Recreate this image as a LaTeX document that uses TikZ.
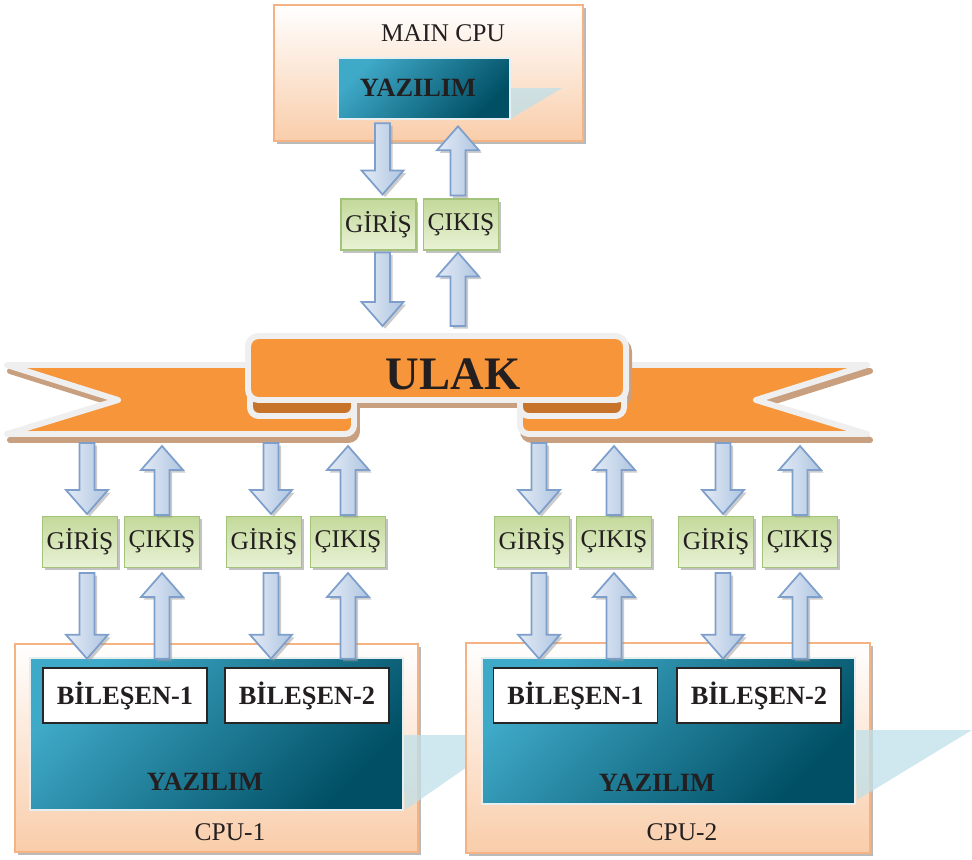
\documentclass[tikz,border=0pt]{standalone}
\usepackage{fontspec}
\setmainfont{Liberation Serif}
\usetikzlibrary{calc,shadows}

\definecolor{peachc}{HTML}{F9CDAA}
\definecolor{peachline}{HTML}{F5B383}
\definecolor{tealL}{HTML}{3FA9C8}
\definecolor{tealD}{HTML}{004F64}
\definecolor{tealline}{HTML}{E6EEF0}
\definecolor{flapc}{HTML}{BFE0EA}
\definecolor{ioT}{HTML}{C3D99A}
\definecolor{ioB}{HTML}{E9F2D6}
\definecolor{ioline}{HTML}{A3C27A}
\definecolor{arrL}{HTML}{E3EBF5}
\definecolor{arrR}{HTML}{AFC5E1}
\definecolor{arrline}{HTML}{7E9FCB}
\definecolor{ribc}{HTML}{F7953B}
\definecolor{ribdark}{HTML}{C8732A}
\definecolor{ribline}{HTML}{EFEFEF}
\definecolor{ribshade}{HTML}{C9A07F}
\definecolor{inkc}{HTML}{231F20}

\tikzset{
  cpubox/.style={draw=peachline, line width=1.2pt, top color=white, bottom color=peachc, inner sep=0pt,
    drop shadow={shadow xshift=1.5pt, shadow yshift=-1.5pt, fill=black!45, opacity=.6}},
  swbox/.style={draw=tealline, line width=1.5pt, top color=tealL, bottom color=tealD, shading angle=45, inner sep=0pt},
  flap/.style={fill=flapc, opacity=.75},
  cpulabel/.style={text=inkc, font=\fontsize{14.5}{17}\selectfont},
  swlabel/.style={text=inkc, font=\fontsize{15}{18}\selectfont\bfseries},
  iobox/.style={draw=ioline, line width=.6pt, top color=ioT, bottom color=ioB, inner sep=0pt,
    minimum width=1.5cm, minimum height=1.02cm, text=inkc, font=\fontsize{14.5}{17}\selectfont,
    drop shadow={shadow xshift=1.2pt, shadow yshift=-1.5pt, fill=black!40, opacity=.6}},
  bilbox/.style={draw=black!85, line width=1.1pt, fill=white, inner sep=0pt,
    minimum width=3.28cm, minimum height=1.1cm, text=inkc, font=\fontsize{15}{18}\selectfont\bfseries},
  fatarrow/.style={draw=arrline, line width=1pt, left color=arrL, right color=arrR,
    drop shadow={shadow xshift=1.5pt, shadow yshift=-1.5pt, fill=black!40, opacity=.5}},
  ribbon/.style={fill=ribc, draw=ribline, line width=3.4pt, line join=round},
  ribfold/.style={fill=ribdark, draw=ribline, line width=3.4pt, line join=round},
  ribshadow/.style={fill=ribshade, draw=ribshade, line width=3.4pt, line join=round},
  ulaktext/.style={text=inkc, font=\fontsize{26.5}{30}\selectfont\bfseries}
}

% fat block arrow from #1 to #2
\newcommand{\fatarrow}[2]{%
  \coordinate (fa) at #1;
  \coordinate (fb) at #2;
  \coordinate (fh) at ($(fb)!0.48cm!(fa)$);
  \path[fatarrow] ($(fa)!0.15cm!90:(fb)$) -- ($(fh)!0.15cm!-90:(fa)$) -- ($(fh)!0.42cm!-90:(fa)$)
    -- (fb) -- ($(fh)!0.42cm!90:(fa)$) -- ($(fh)!0.15cm!90:(fa)$) -- ($(fa)!0.15cm!-90:(fb)$) -- cycle;}

% ribbon parts
\newcommand{\ribtailL}{(7,365) -- (118,400) -- (7,434) [rounded corners=5pt] -- (354,434) -- (354,365) [sharp corners] -- cycle}
\newcommand{\ribtailR}{(867,365) -- (756,400) -- (867,434) [rounded corners=5pt] -- (520,434) -- (520,365) [sharp corners] -- cycle}
\newcommand{\ribrollL}{(354,390) -- (250,390) [rounded corners=5pt] -- (250,416) -- (354,416) [sharp corners] -- cycle}
\newcommand{\ribrollR}{(520,390) -- (624,390) [rounded corners=5pt] -- (624,416) -- (520,416) [sharp corners] -- cycle}
\newcommand{\ribmid}{[rounded corners=6pt] (248,336) rectangle (626,400)}

\begin{document}
\begin{tikzpicture}[x=0.02cm, y=-0.02cm]
  \useasboundingbox (0,0) rectangle (972,859);

  % main cpu
  \node[cpubox, minimum width=6.18cm, minimum height=2.72cm] (maincpu) at (428.5,73) {};
  \fill[flap] (510,88) -- (562,88) -- (512,118) -- cycle;
  \node[swbox, minimum width=3.44cm, minimum height=1.22cm] (mainsw) at (424,88.5) {};
  \node[cpulabel] (mainlbl) at (443,33) {MAIN CPU};
  \node[swlabel] (mainswlbl) at (418,88) {YAZILIM};

  % cpu-1 and cpu-2
  \node[cpubox, minimum width=8.06cm, minimum height=4.16cm] (cpua) at (216.5,748) {};
  \fill[flap] (402,735) -- (513,735) -- (405,810) -- cycle;
  \node[cpubox, minimum width=8.08cm, minimum height=4.2cm] (cpub) at (668,748) {};
  \fill[flap] (854,730) -- (972,730) -- (857,800) -- cycle;
  \node[swbox, minimum width=7.46cm, minimum height=3.04cm] (swa) at (216.5,734) {};
  \node[swbox, minimum width=7.46cm, minimum height=2.92cm] (swb) at (668.5,731) {};
  \node[bilbox] (bila1) at (125,695.5) {BİLEŞEN-1};
  \node[bilbox] (bila2) at (307,695.5) {BİLEŞEN-2};
  \node[bilbox] (bilb1) at (575.5,695.5) {BİLEŞEN-1};
  \node[bilbox] (bilb2) at (759,695.5) {BİLEŞEN-2};
  \node[swlabel] (swalbl) at (205,782) {YAZILIM};
  \node[swlabel] (swblbl) at (657,783) {YAZILIM};
  \node[cpulabel] (cpualbl) at (230,832) {CPU-1};
  \node[cpulabel] (cpublbl) at (682,832) {CPU-2};

  % ulak ribbon
  \filldraw[ribshadow, shift={(3,6)}] \ribtailL;
  \filldraw[ribshadow, shift={(3,6)}] \ribtailR;
  \path[ribbon] \ribtailL;
  \path[ribbon] \ribtailR;
  \filldraw[ribshadow, shift={(3,5)}] \ribmid;
  \path[ribfold] \ribrollL;
  \path[ribfold] \ribrollR;
  \path[ribbon] \ribmid;
  \node[ulaktext] (ulak) at (453,374) {ULAK};
  \coordinate (ulaktop) at (437,333);
  \coordinate (ulakbot) at (437,441);

  % main cpu ports
  \node[iobox] (giris0) at (378.5,224.5) {GİRİŞ};
  \node[iobox] (cikis0) at (461,224.5) {ÇIKIŞ};
  \fatarrow{($(giris0.north |- mainsw.south)+(4,3)$)}{($(giris0.north)+(4,-4)$)}
  \fatarrow{($(cikis0.north)+(-3,-3)$)}{($(cikis0.north |- mainsw.south)+(-3,6)$)}
  \fatarrow{($(giris0.south)+(4,2)$)}{($(giris0.south |- ulaktop)+(4,-7)$)}
  \fatarrow{($(cikis0.south |- ulaktop)+(-3,-7)$)}{($(cikis0.south)+(-3,2)$)}

  % component ports
  \foreach \i/\gx/\cx/\sw in {1/80/162/swa, 2/264/348/swa, 3/532/614/swb, 4/716/800/swb} {
    \node[iobox] (giris\i) at (\gx,542) {GİRİŞ};
    \node[iobox] (cikis\i) at (\cx,542) {ÇIKIŞ};
    \fatarrow{($(giris\i.north |- ulakbot)+(7,2)$)}{($(giris\i.north)+(7,-2)$)}
    \fatarrow{($(cikis\i.north)+(0,-1)$)}{($(cikis\i.north |- ulakbot)+(0,5)$)}
    \fatarrow{($(giris\i.south)+(7,5)$)}{($(giris\i.south |- \sw.north)+(7,2)$)}
    \fatarrow{($(cikis\i.south |- \sw.north)+(0,2)$)}{($(cikis\i.south)+(0,5)$)}
  }
\end{tikzpicture}
\end{document}
